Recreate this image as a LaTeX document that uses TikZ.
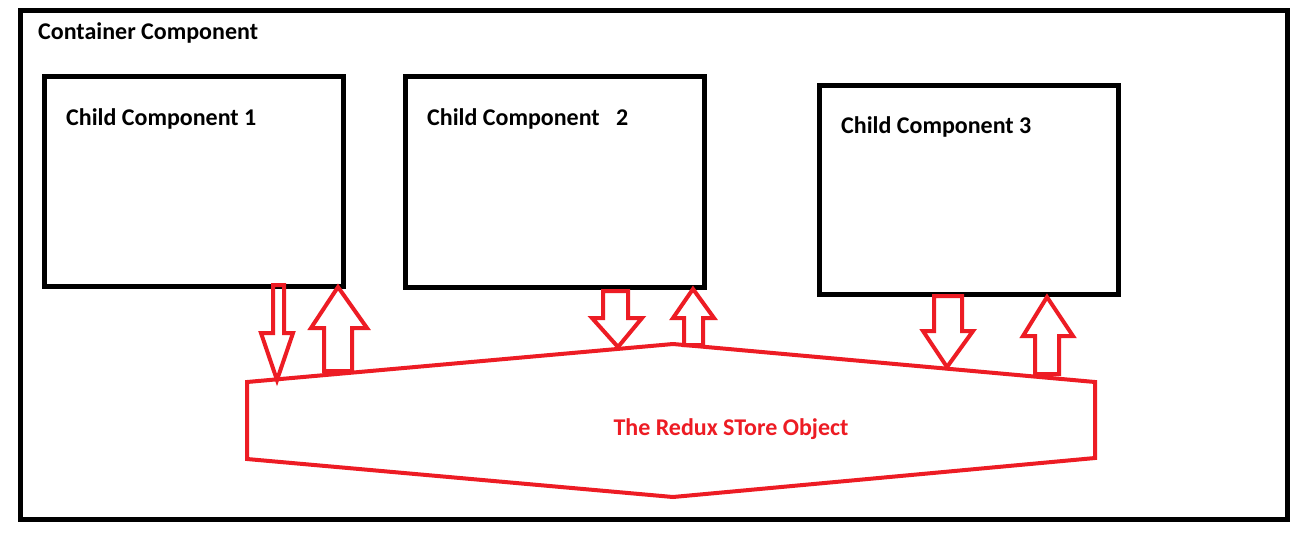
\documentclass[tikz,border=0pt]{standalone}
\usepackage{fontspec}
\setmainfont{Carlito}
\begin{document}
\begin{tikzpicture}[x=1pt,y=-1pt,
  box/.style={draw=black,line width=5pt,minimum width=0pt},
  lbl/.style={font=\fontsize{24}{27}\selectfont\bfseries,anchor=base west,inner sep=0pt},
  redline/.style={draw=paintred,line width=4pt,line join=miter},
]
\definecolor{paintred}{HTML}{ED1C24}
\useasboundingbox[fill=white] (0,0) rectangle (1306,542);
% outer container
\draw[box] (20,10.5) rectangle (1287,519);
\node[lbl] (title) at (38,39) {Container Component};
% children
\draw[box] (44.5,76) rectangle (343.5,286);
\draw[box] (405,76.5) rectangle (704.5,287.5);
\draw[box] (819.5,85) rectangle (1118.5,294.5);
\node[lbl] (c1) at (66,125) {Child Component 1};
\node[lbl] (c2) at (427,125) {Child Component\ \ \ 2};
\node[lbl] (c3) at (841,133) {Child Component\ 3};
% store
\draw[redline] (247,382) -- (673,344) -- (1095,382) -- (1095,458) -- (673,497) -- (247,459) -- cycle;
\node[lbl,text=paintred,anchor=base] (store) at (731,435) {The Redux STore Object};
% arrows
\draw[redline] (273,285) -- (284,285) -- (284,333) -- (293,333) -- (277,380) -- (261,333) -- (273,333) -- cycle;
\draw[redline] (338,287) -- (367,328) -- (352,328) -- (352,371) -- (324,371) -- (324,328) -- (311,328) -- cycle;
\draw[redline] (603,291) -- (628,291) -- (628,318) -- (642,318) -- (618,347) -- (592,318) -- (603,318) -- cycle;
\draw[redline] (693,289) -- (714,318) -- (703,318) -- (703,345) -- (684,345) -- (684,318) -- (673,318) -- cycle;
\draw[redline] (934,296) -- (962,296) -- (962,331) -- (973,331) -- (947,367) -- (923,331) -- (934,331) -- cycle;
\draw[redline] (1047,297) -- (1073,336) -- (1059,336) -- (1059,374) -- (1035,374) -- (1035,336) -- (1023,336) -- cycle;
\end{tikzpicture}
\end{document}
